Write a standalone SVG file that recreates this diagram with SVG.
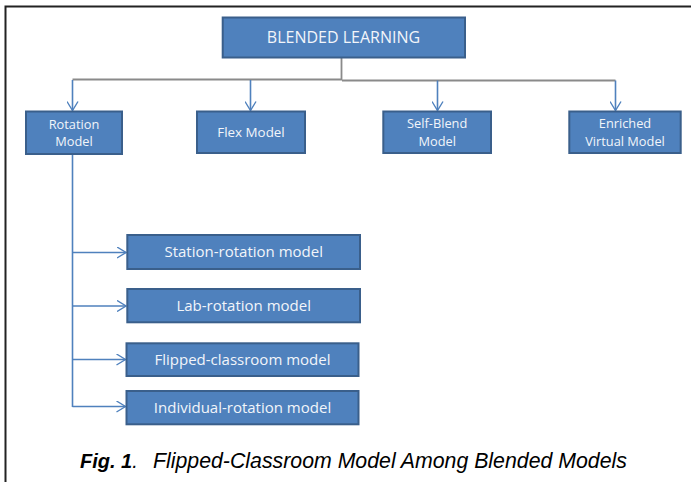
<svg xmlns="http://www.w3.org/2000/svg" width="691" height="482" viewBox="0 0 691 482">
<style>
.box{fill:#4f81bd;stroke:#3a5f8b;stroke-width:2}
.lbl{font-family:"Open Sans","Noto Sans",sans-serif;fill:#f2f5fa;text-anchor:middle}
.l16{font-size:16px}
.l15{font-size:15px}
.l13{font-size:13.4px}
.l12{font-size:12.8px}
.blue{stroke:#4f81bd;stroke-width:1.6;fill:none}
.gray{stroke:#8a8a8a;stroke-width:1.8;fill:none}
.cap{font-family:"Liberation Sans",Arial,sans-serif;font-style:italic;fill:#000}
</style>
<defs>
<marker id="arr" viewBox="0 0 10 12" refX="9.5" refY="6" markerWidth="10" markerHeight="12" markerUnits="userSpaceOnUse" orient="auto">
<path d="M0.5,0.5 L9.5,6 L0.5,11.5" fill="none" stroke="#4f81bd" stroke-width="1.4"/>
</marker>
</defs>
<rect width="691" height="482" fill="#fff"/>
<path d="M5.5,482 V6.5 H691" fill="none" stroke="#222" stroke-width="2"/>
<g id="connectors">
<path class="gray" d="M341.5,57.5 V80.5 M72.5,79.5 H342 M342,80.5 H615.5"/>
<path class="blue" marker-end="url(#arr)" d="M72.5,80 V110.5"/>
<path class="blue" marker-end="url(#arr)" d="M250.5,80 V110.5"/>
<path class="blue" marker-end="url(#arr)" d="M437.5,80.5 V110.5"/>
<path class="blue" marker-end="url(#arr)" d="M615.5,80.5 V110.5"/>
<path class="blue" d="M72.5,154 V407"/>
<path class="blue" marker-end="url(#arr)" d="M72.5,252.5 H126"/>
<path class="blue" marker-end="url(#arr)" d="M72.5,306 H126"/>
<path class="blue" marker-end="url(#arr)" d="M72.5,359.5 H125.5"/>
<path class="blue" marker-end="url(#arr)" d="M72.5,406.5 H125.5"/>
</g>
<g id="blended-learning">
<rect class="box" x="222.7" y="17.5" width="242.3" height="40"/>
<text class="lbl l16" x="343.5" y="42.7">BLENDED LEARNING</text>
</g>
<g id="rotation-model">
<rect class="box" x="26" y="111.5" width="96" height="42.5"/>
<text class="lbl l12" x="74" y="128.5">Rotation</text>
<text class="lbl l12" x="74" y="146">Model</text>
</g>
<g id="flex-model">
<rect class="box" x="197" y="111.5" width="108" height="41.5"/>
<text class="lbl l13" x="251" y="137.3">Flex Model</text>
</g>
<g id="self-blend-model">
<rect class="box" x="383.3" y="111.5" width="107.7" height="41.5"/>
<text class="lbl l12" x="437.2" y="128.3">Self-Blend</text>
<text class="lbl l12" x="437.2" y="145.8">Model</text>
</g>
<g id="enriched-virtual-model">
<rect class="box" x="569.3" y="111.5" width="111.4" height="41.5"/>
<text class="lbl l12" x="625" y="128.3">Enriched</text>
<text class="lbl l12" x="625" y="145.8">Virtual Model</text>
</g>
<g id="station-rotation-model">
<rect class="box" x="127.3" y="235" width="232.7" height="34"/>
<text class="lbl l15" x="243.7" y="257.3">Station-rotation model</text>
</g>
<g id="lab-rotation-model">
<rect class="box" x="127.3" y="289" width="232.7" height="33.3"/>
<text class="lbl l15" x="243.7" y="311">Lab-rotation model</text>
</g>
<g id="flipped-classroom-model">
<rect class="box" x="126.5" y="343.3" width="232" height="32.7"/>
<text class="lbl l15" x="242.5" y="364.7">Flipped-classroom model</text>
</g>
<g id="individual-rotation-model">
<rect class="box" x="126.5" y="391" width="232" height="33.3"/>
<text class="lbl l15" x="242.5" y="412.7">Individual-rotation model</text>
</g>
<text class="cap" x="80" y="467.7" font-size="20"><tspan font-weight="bold">Fig. 1</tspan>.<tspan x="153" font-size="21.3">Flipped-Classroom Model Among Blended Models</tspan></text>
</svg>
